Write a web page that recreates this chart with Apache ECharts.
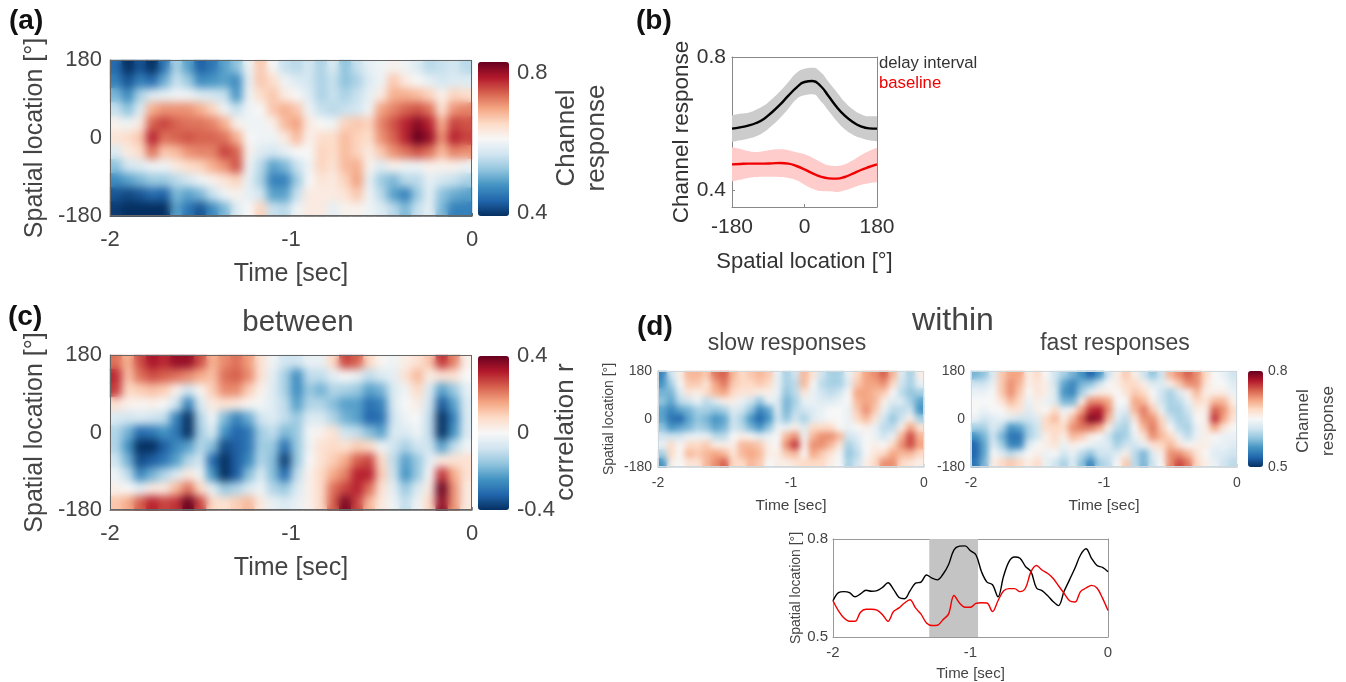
<!DOCTYPE html>
<html>
<head>
<meta charset="utf-8">
<script src="https://cdn.jsdelivr.net/npm/echarts@6/dist/echarts.min.js"></script>
<style>
html,body{margin:0;padding:0;background:#fff;}
#main{position:absolute;left:0;top:0;width:1346px;height:682px;}
.soft{position:absolute;box-sizing:border-box;}
</style>
</head>
<body>
<div id="main"></div>
<script>
// time bins and spatial rows shared by all four maps
var timeBins = [-1.97,-1.9,-1.83,-1.77,-1.7,-1.63,-1.57,-1.5,-1.43,-1.37,-1.3,-1.23,-1.17,-1.1,-1.03,-0.97,-0.9,-0.83,-0.77,-0.7,-0.63,-0.57,-0.5,-0.43,-0.37,-0.3,-0.23,-0.17,-0.1,-0.03];
var spatialRows = [180,144,108,72,36,0,-36,-72,-108,-144,-180];

// all maps are typed top row first, in hundredths
var mapA = [
[44,38,42,38,45,54,49,43,45,49,52,60,67,61,56,55,57,54,58,52,56,59,60,62,60,58,55,56,57,55],
[46,42,46,44,50,56,53,47,48,49,47,59,67,65,60,58,57,54,56,52,54,58,60,67,63,61,59,57,58,58],
[51,47,54,58,59,60,60,58,57,56,48,60,65,67,63,61,58,54,56,54,56,59,63,69,69,68,66,62,66,65],
[56,52,58,69,71,71,71,69,66,60,56,60,61,67,69,67,60,56,55,56,57,60,70,72,74,75,73,64,71,72],
[62,60,63,74,76,74,73,73,72,69,62,60,60,62,68,70,63,61,60,66,67,66,72,75,78,81,78,69,76,75],
[64,65,67,78,73,74,75,74,74,73,69,61,60,60,63,68,62,65,65,68,66,65,71,74,78,84,80,71,78,76],
[58,63,65,73,67,68,71,72,72,76,74,62,58,57,59,61,61,66,65,68,66,63,67,71,73,75,73,68,72,71],
[52,57,58,60,60,63,65,66,69,71,75,60,55,49,51,56,60,66,64,68,69,62,58,62,60,60,62,62,62,60],
[47,49,51,53,53,55,57,60,62,64,66,59,54,46,46,53,61,64,63,66,70,59,53,51,55,55,59,57,56,54],
[42,41,42,44,43,51,49,51,56,60,62,59,57,49,49,56,63,63,63,64,67,60,55,49,46,53,59,52,50,49],
[40,39,39,39,38,49,45,42,47,51,58,61,66,56,55,60,63,63,59,62,62,60,58,55,51,56,59,51,46,46]
];
var mapC = [
[22,14,26,33,30,35,35,26,14,19,22,17,6,-2,-8,-8,-3,-3,8,27,24,8,1,-2,3,6,11,29,20,2],
[30,12,22,26,24,22,19,15,12,22,24,19,6,-4,-13,-25,-10,-10,-4,0,-3,-10,-6,-4,6,13,3,6,6,0],
[28,8,10,12,10,2,-8,1,10,19,19,10,2,-5,-13,-25,-15,-19,-12,-13,-15,-22,-19,-6,-2,8,-6,-22,-15,-4],
[6,2,1,2,0,-8,-27,-6,4,6,4,1,-1,-5,-10,-22,-12,-12,-17,-22,-22,-30,-27,-6,0,3,-8,-34,-22,-6],
[-6,-8,-6,-8,-10,-27,-40,-12,-1,-18,-27,-20,-8,-5,-10,-15,-6,-6,-12,-19,-22,-32,-30,-8,-2,0,-10,-42,-27,-6],
[-12,-19,-31,-29,-24,-29,-40,-14,-6,-24,-32,-29,-14,-10,-18,-15,-1,2,6,-8,-10,-17,-22,-6,-6,-2,-10,-40,-24,-6],
[-12,-24,-40,-40,-33,-26,-22,-12,-17,-36,-33,-29,-14,-15,-30,-15,-2,6,8,6,10,8,-2,-8,-13,-8,-8,-22,-10,-2],
[-8,-19,-36,-33,-29,-22,-12,-8,-31,-40,-33,-26,-12,-17,-38,-15,0,6,10,15,24,27,8,-10,-22,-15,-4,4,6,6],
[-2,-10,-26,-19,-12,-6,4,-2,-24,-40,-33,-17,-6,-17,-31,-10,2,8,15,20,31,31,10,-8,-24,-15,0,29,15,6],
[2,0,-4,4,4,13,22,8,-4,-15,-12,-6,-2,-12,-15,-6,2,8,22,27,31,22,6,-4,-15,-6,4,40,18,4],
[11,15,24,31,27,29,42,27,8,6,10,13,4,-3,-6,-3,2,8,24,38,27,13,4,-2,-10,-2,8,36,18,4]
];
var mapSlow = [
[55,62,66,70,70,69,73,74,70,68,69,70,69,64,60,62,70,67,62,60,60,64,68,71,72,74,70,63,60,66],
[56,60,65,69,69,67,71,73,69,68,68,69,68,64,60,61,70,65,61,60,60,63,69,71,71,72,68,62,60,64],
[58,58,63,67,66,68,70,71,68,67,67,66,66,64,59,61,67,64,62,61,62,65,71,71,70,69,65,61,59,60],
[59,57,61,62,64,61,63,66,66,64,62,59,64,63,58,60,64,64,63,63,64,65,70,71,70,66,63,63,60,57],
[57,55,57,58,60,60,59,60,63,62,59,55,57,63,58,61,62,63,64,65,65,64,69,72,69,64,61,61,62,56],
[57,54,53,57,59,58,56,57,62,60,56,53,56,62,59,62,60,63,64,65,65,64,68,70,67,62,59,62,66,60],
[59,56,57,58,60,59,57,58,62,61,58,56,59,64,64,66,63,68,68,68,65,64,65,66,64,61,61,66,71,67],
[62,62,62,64,64,64,61,61,65,66,65,63,64,65,70,72,64,70,72,72,70,62,63,65,64,62,64,70,75,70],
[64,68,65,68,68,69,66,66,66,70,70,69,66,65,72,76,66,72,72,70,67,60,62,65,66,65,68,72,75,71],
[60,68,65,70,69,70,71,70,67,70,71,70,66,66,69,70,65,71,69,67,65,59,61,65,67,68,71,70,70,68],
[56,66,65,67,67,70,72,74,68,68,70,69,65,66,66,67,68,68,68,66,65,60,62,66,68,72,72,68,67,66]
];
var mapFast = [
[58,59,63,69,71,71,66,68,65,62,60,58,56,53,56,62,66,69,66,62,59,62,70,72,74,72,68,65,64,62],
[62,62,64,69,72,70,66,67,66,62,57,55,58,59,62,65,66,68,68,66,63,63,66,69,72,72,67,65,65,63],
[64,64,65,69,72,69,65,67,66,63,56,55,60,64,66,66,65,67,69,68,65,62,60,63,66,70,66,66,66,64],
[65,65,65,67,70,68,64,66,64,63,58,58,66,72,72,71,65,65,71,70,66,62,60,61,64,68,67,70,70,66],
[65,64,65,65,67,67,63,66,65,68,64,66,71,76,77,72,64,63,70,73,69,64,60,60,62,66,66,74,72,68],
[64,62,63,64,63,62,62,63,68,70,66,70,74,79,78,70,63,61,67,72,72,68,62,60,61,65,66,76,71,67],
[60,60,63,61,56,57,60,62,68,68,68,72,73,73,71,66,61,60,65,70,73,69,65,61,60,64,66,71,67,65],
[56,58,62,58,54,54,60,62,66,68,66,70,69,66,65,62,59,60,64,67,72,70,68,64,61,64,66,65,64,64],
[53,57,63,60,55,55,63,65,66,67,64,66,65,64,63,63,60,62,62,64,67,68,70,67,65,66,66,64,64,63],
[53,57,65,63,61,63,65,66,64,65,62,64,61,59,62,62,63,66,61,58,63,66,72,72,70,67,65,63,63,62],
[54,58,66,68,69,68,66,68,64,62,60,63,59,55,60,61,65,69,61,58,62,65,72,75,73,68,66,64,62,61]
];

// panel b
var spatialDeg = [-180,-160,-140,-120,-100,-80,-60,-40,-20,0,20,40,60,80,100,120,140,160,180];
var delayMean = [.585,.589,.594,.602,.615,.635,.658,.684,.708,.725,.728,.713,.682,.65,.624,.605,.592,.586,.585];
var delayUpper = [.625,.63,.633,.642,.655,.675,.698,.725,.752,.765,.768,.755,.725,.695,.665,.643,.628,.622,.622];
var delayLower = [.545,.55,.555,.562,.575,.595,.618,.645,.673,.685,.688,.668,.638,.608,.583,.567,.557,.55,.547];
var baseMean = [.478,.479,.48,.48,.48,.481,.482,.48,.473,.463,.451,.441,.436,.435,.44,.45,.461,.47,.478];
var baseUpper = [.529,.524,.518,.515,.518,.522,.523,.52,.514,.508,.498,.485,.475,.473,.478,.49,.505,.518,.528];
var baseLower = [.427,.432,.437,.44,.441,.441,.44,.437,.43,.417,.405,.398,.397,.395,.4,.408,.416,.421,.425];

// bottom panel of d
var lineTime = [-2,-1.96,-1.92,-1.88,-1.84,-1.8,-1.76,-1.72,-1.68,-1.64,-1.6,-1.56,-1.52,-1.48,-1.44,-1.4,-1.36,-1.32,-1.28,-1.24,-1.2,-1.16,-1.12,-1.08,-1.04,-1,-0.96,-0.92,-0.88,-0.84,-0.8,-0.76,-0.72,-0.68,-0.64,-0.6,-0.56,-0.52,-0.48,-0.44,-0.4,-0.36,-0.32,-0.28,-0.24,-0.2,-0.16,-0.12,-0.08,-0.04,0];
var slowLine = [.611,.636,.639,.636,.623,.632,.643,.64,.642,.652,.666,.646,.621,.617,.641,.665,.668,.69,.68,.675,.692,.721,.767,.778,.779,.764,.751,.7,.668,.66,.623,.685,.731,.745,.741,.716,.7,.65,.642,.627,.609,.596,.639,.675,.711,.751,.77,.741,.719,.713,.7];
var fastLine = [.611,.58,.558,.548,.548,.576,.585,.585,.582,.568,.548,.578,.589,.604,.614,.589,.57,.543,.535,.536,.553,.57,.627,.604,.591,.591,.603,.605,.604,.578,.611,.641,.648,.648,.639,.65,.7,.719,.705,.695,.68,.657,.634,.611,.607,.639,.65,.658,.65,.619,.581];
var shadedWindow = [-1.3,-0.945];

var rdbu = ['#053061','#2166ac','#4393c3','#92c5de','#d1e5f0','#f7f7f7','#fddbc7','#f4a582','#d6604d','#b2182b','#67001f'];
var font = 'Liberation Sans';

var grids = [], xAxes = [], yAxes = [], series = [], maps = [], texts = [];

function addGrid(x0, y0, x1, y1) {
    grids.push({left: x0, top: y0, width: x1 - x0, height: y1 - y0});
    return grids.length - 1;
}

function toCells(rows, scale) {
    var cells = [];
    rows.forEach(function (row, r) {
        row.forEach(function (v, c) {
            cells.push([c, rows.length - 1 - r, v * scale]);
        });
    });
    return cells;
}

function visibleAxis(g, o) {
    var ax = {
        type: 'value', gridIndex: g, min: o.min, max: o.max, interval: o.interval,
        position: o.position, name: o.name, nameLocation: 'middle', nameGap: o.nameGap,
        nameTextStyle: {fontFamily: font, fontSize: o.nameSize, color: o.color},
        axisLine: {show: o.line !== false, onZero: false, lineStyle: {color: o.frame, width: 1}},
        axisTick: {show: o.tick !== false, inside: true, length: 3, lineStyle: {color: o.frame}, customValues: o.custom},
        axisLabel: {show: o.labels !== false, fontFamily: font, fontSize: o.size, color: o.color, margin: o.margin, showMinLabel: true, showMaxLabel: true, customValues: o.custom},
        splitLine: {show: false}
    };
    return ax;
}

function addMap(box, rows, lo, hi, bar, labels, style, yName) {
    var g = addGrid(box[0], box[1], box[2], box[3]);
    var cx = xAxes.length, cy = yAxes.length;
    // hidden band axes carry the cells, the value axes carry the ticks
    xAxes.push({type: 'category', gridIndex: g, data: timeBins, show: false});
    yAxes.push({type: 'category', gridIndex: g, data: spatialRows.slice().reverse(), show: false});
    xAxes.push(visibleAxis(g, {min: -2, max: 0, interval: 1, position: 'bottom', name: 'Time [sec]', nameGap: style.xGap, nameSize: style.nameSize, size: style.size, margin: style.xMargin, color: '#444', frame: style.border}));
    yAxes.push(visibleAxis(g, {min: -180, max: 180, interval: 180, position: 'left', name: yName, nameGap: style.yGap, nameSize: style.yNameSize || style.nameSize, size: style.size, margin: style.yMargin, color: '#444', frame: style.border}));
    series.push({
        type: 'heatmap', xAxisIndex: cx, yAxisIndex: cy, data: toCells(rows, 0.01),
        progressive: 0, animation: false, itemStyle: {borderWidth: 0}, emphasis: {disabled: true}
    });
    var vm = {
        type: 'continuous', seriesIndex: series.length - 1, min: lo, max: hi, calculable: false, hoverLink: false,
        show: !!bar, padding: 0, text: null, showLabel: false, inRange: {color: rdbu}, dimension: 2
    };
    if (bar) {
        vm.left = bar[0];
        vm.top = bar[1];
        vm.itemWidth = bar[2] - bar[0];
        vm.itemHeight = bar[3] - bar[1];
        // tick labels of the colour bar
        var gb = addGrid(bar[0], bar[1], bar[2], bar[3]);
        xAxes.push({type: 'value', gridIndex: gb, min: 0, max: 1, show: false});
        yAxes.push(visibleAxis(gb, {min: lo, max: hi, position: 'right', size: style.barSize, margin: style.barMargin, color: '#444', frame: '#888', tick: false, line: false, custom: labels}));
    }
    maps.push(vm);
    var blur = document.createElement('div');
    blur.className = 'soft';
    blur.style.cssText = 'left:' + box[0] + 'px;top:' + box[1] + 'px;width:' + (box[2] - box[0]) + 'px;height:' + (box[3] - box[1]) + 'px;' +
        'border:1px solid ' + style.border + ';backdrop-filter:blur(' + style.blur + 'px);-webkit-backdrop-filter:blur(' + style.blur + 'px);';
    document.body.appendChild(blur);
}

function text(str, x, y, size, o) {
    o = o || {};
    texts.push({
        type: 'text', x: x, y: y, rotation: o.rot || 0, silent: true, z: 50,
        style: {text: str, fontFamily: font, fontSize: size, fontWeight: o.bold ? 'bold' : 'normal', fill: o.color || '#444', align: o.align || 'center', verticalAlign: 'middle'}
    });
}

var bigMap = {xGap: 46, yGap: 62, nameSize: 25, size: 22, xMargin: 13, yMargin: 8, barSize: 22, barMargin: 8, border: '#666', blur: 4};
var smallMap = {xGap: 31, yGap: 42, nameSize: 15.5, yNameSize: 14, size: 14, xMargin: 9, yMargin: 6, barSize: 14, barMargin: 5, border: '#cfd8dc', blur: 3};

addMap([110, 60, 472, 216], mapA, 0.39, 0.83, [478, 62, 509, 216], [0.4, 0.8], bigMap, 'Spatial location [°]');
addMap([110, 355, 472, 510], mapC, -0.4, 0.4, [478, 356, 509, 510], [-0.4, 0, 0.4], bigMap, 'Spatial location [°]');
addMap([658, 371, 924, 467], mapSlow, 0.5, 0.8, null, [], smallMap, 'Spatial location [°]');
addMap([971, 371, 1237, 467], mapFast, 0.5, 0.8, [1248, 371, 1263, 467], [0.5, 0.8], smallMap, '');

// panel b: band = hidden lower line + stacked difference
var gB = addGrid(732, 57, 877, 207);
var bx = xAxes.length, by = yAxes.length;
var showEnds = function (i) { return spatialDeg[i] % 180 === 0; };
var axB = visibleAxis(gB, {position: 'bottom', name: 'Spatial location [°]', nameGap: 44, nameSize: 22, size: 21, margin: 10, color: '#333', frame: '#888'});
axB.type = 'category';
axB.data = spatialDeg;
axB.boundaryGap = false;
axB.axisLabel.interval = showEnds;
axB.axisTick.interval = showEnds;
xAxes.push(axB);
yAxes.push(visibleAxis(gB, {min: 0.35, max: 0.8, position: 'left', name: 'Channel response', nameGap: 34, nameSize: 22.5, size: 21, margin: 6, color: '#333', frame: '#888', custom: [0.4, 0.8]}));
xAxes.push(visibleAxis(gB, {min: -180, max: 180, position: 'top', labels: false, color: '#333', frame: '#888', tick: false}));
yAxes.push(visibleAxis(gB, {min: 0.35, max: 0.8, position: 'right', labels: false, color: '#333', frame: '#888', tick: false}));

function addBand(name, upper, lower, fill) {
    series.push({type: 'line', xAxisIndex: bx, yAxisIndex: by, stack: name, data: lower, smooth: 0.5, showSymbol: false, lineStyle: {width: 0}, animation: false, silent: true});
    series.push({type: 'line', xAxisIndex: bx, yAxisIndex: by, stack: name, data: upper.map(function (u, i) { return u - lower[i]; }), smooth: 0.5, showSymbol: false, lineStyle: {width: 0}, areaStyle: {color: fill, opacity: 1}, animation: false, silent: true});
}
addBand('delay', delayUpper, delayLower, '#cccccc');
addBand('base', baseUpper, baseLower, '#ffcccc');
series.push({type: 'line', name: 'delay interval', xAxisIndex: bx, yAxisIndex: by, data: delayMean, smooth: 0.5, showSymbol: false, lineStyle: {color: '#000', width: 2.4}, animation: false});
series.push({type: 'line', name: 'baseline', xAxisIndex: bx, yAxisIndex: by, data: baseMean, smooth: 0.5, showSymbol: false, lineStyle: {color: '#f00000', width: 2.4}, animation: false});

// bottom line panel of d
function pairs(xs, ys) {
    return xs.map(function (x, i) { return [x, ys[i]]; });
}
var gL = addGrid(833, 539, 1108, 637);
var lx = xAxes.length, ly = yAxes.length;
xAxes.push(visibleAxis(gL, {min: -2, max: 0, interval: 1, position: 'bottom', name: 'Time [sec]', nameGap: 29, nameSize: 15, size: 15, margin: 8, color: '#444', frame: '#999'}));
yAxes.push(visibleAxis(gL, {min: 0.5, max: 0.8, interval: 0.3, position: 'left', name: 'Spatial location [°]', nameGap: 30, nameSize: 14, size: 15, margin: 5, color: '#444', frame: '#999'}));
xAxes.push(visibleAxis(gL, {min: -2, max: 0, position: 'top', labels: false, color: '#444', frame: '#999', tick: false}));
yAxes.push(visibleAxis(gL, {min: 0.5, max: 0.8, position: 'right', labels: false, color: '#444', frame: '#999', tick: false}));
series.push({
    type: 'line', name: 'slow', xAxisIndex: lx, yAxisIndex: ly, data: pairs(lineTime, slowLine), smooth: 0.35, showSymbol: false,
    lineStyle: {color: '#000', width: 1.4}, animation: false,
    markArea: {silent: true, itemStyle: {color: '#c4c4c4'}, data: [[{xAxis: shadedWindow[0]}, {xAxis: shadedWindow[1]}]]}
});
series.push({type: 'line', name: 'fast', xAxisIndex: lx, yAxisIndex: ly, data: pairs(lineTime, fastLine), smooth: 0.35, showSymbol: false, lineStyle: {color: '#f00000', width: 1.4}, animation: false});

// panel letters, titles and colour bar names
text('(a)', 9, 21, 28, {bold: true, color: '#111', align: 'left'});
text('(b)', 636, 21, 28, {bold: true, color: '#111', align: 'left'});
text('(c)', 8, 317, 28, {bold: true, color: '#111', align: 'left'});
text('(d)', 637, 327, 28, {bold: true, color: '#111', align: 'left'});
text('between', 298, 323, 29.5);
text('within', 953, 321, 32);
text('slow responses', 787, 344, 23);
text('fast responses', 1115, 344, 23);
text('delay interval', 879, 63, 16.7, {align: 'left', color: '#333'});
text('baseline', 879, 83, 16.7, {align: 'left', color: '#f00000'});
text('Channel', 567, 138, 26, {rot: Math.PI / 2});
text('response', 597, 138, 26, {rot: Math.PI / 2});
text('correlation r', 566, 432, 26, {rot: Math.PI / 2});
text('Channel', 1303, 421, 17, {rot: Math.PI / 2});
text('response', 1328, 421, 17, {rot: Math.PI / 2});

var chart = echarts.init(document.getElementById('main'), null, {renderer: 'canvas'});
chart.setOption({
    animation: false,
    backgroundColor: '#fff',
    grid: grids, xAxis: xAxes, yAxis: yAxes,
    visualMap: maps,
    series: series,
    graphic: texts
});
</script>
</body>
</html>
